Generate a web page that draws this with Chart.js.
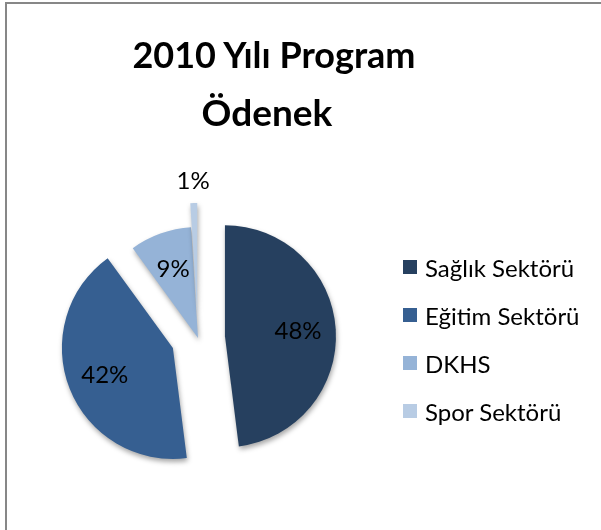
<!DOCTYPE html>
<html>
<head>
<meta charset="utf-8">
<script src="https://cdn.jsdelivr.net/npm/chart.js@4.4.1/dist/chart.umd.min.js"></script>
<style>
  html, body { margin: 0; padding: 0; background: #fff; }
  #wrap { position: relative; width: 601px; height: 530px; overflow: hidden; background: #fff; }
  #frame { position: absolute; left: 5px; top: 2px; width: 700px; height: 700px; border: 2px solid #878787; box-sizing: border-box; }
  #title { position: absolute; left: 74px; top: 26px; width: 400px; text-align: center;
           font-family: Lato, "Open Sans", sans-serif; font-weight: 700; font-size: 36px; line-height: 57px; color: #000; }
  #title div:nth-child(2) { position: relative; left: -7px; font-size: 37px; }
  #legend { position: absolute; left: 403px; top: 243px; font-family: Lato, "Open Sans", sans-serif; font-size: 24px; color: #000; }
  .item { display: flex; align-items: center; height: 48px; white-space: nowrap; }
  .box { width: 14px; height: 14px; margin-right: 8px; flex: none; }
  canvas { position: absolute; left: 0; top: 0; }
</style>
</head>
<body>
<div id="wrap">
  <div id="frame"></div>
  <canvas id="c" width="601" height="530"></canvas>
  <div id="title"></div>
  <div id="legend"></div>
</div>
<script>
// ---- data ----
const titleLines = ["2010 Yılı Program", "Ödenek"];
const categories = ["Sağlık Sektörü", "Eğitim Sektörü", "DKHS", "Spor Sektörü"];
const values = [48, 42, 9, 1];
const colors = ["#26405F", "#365F91", "#95B3D7", "#B8CCE4"];
const explode = [27, 27, 0, 24]; // explosion distance of each slice, px

const total = values.reduce((a, b) => a + b, 0);

document.getElementById('title').innerHTML = titleLines.map(t => '<div>' + t + '</div>').join('');
document.getElementById('legend').innerHTML = categories.map((c, i) =>
  '<div class="item"><span class="box" style="background:' + colors[i] + '"></span><span>' + c + '</span></div>').join('');

// draws each library-computed arc, moved outward along its bisector (exploded pie)
const explodePlugin = {
  id: 'explode',
  beforeDatasetDraw(chart, args) {
    const ctx = chart.ctx;
    const meta = args.meta;
    ctx.save();
    ctx.shadowColor = 'rgba(0,0,0,0.35)';
    ctx.shadowBlur = 5;
    ctx.shadowOffsetX = 1;
    ctx.shadowOffsetY = 3;
    meta.data.forEach((arc, i) => {
      const mid = (arc.startAngle + arc.endAngle) / 2;
      ctx.save();
      ctx.translate(Math.cos(mid) * explode[i], Math.sin(mid) * explode[i]);
      arc.draw(ctx);
      ctx.restore();
    });
    ctx.restore();
    return false;
  }
};

const labelPlugin = {
  id: 'pctLabels',
  afterDatasetsDraw(chart) {
    const ctx = chart.ctx;
    const meta = chart.getDatasetMeta(0);
    ctx.save();
    ctx.font = '24px Lato, "Open Sans", sans-serif';
    ctx.fillStyle = '#000';
    ctx.textAlign = 'center';
    ctx.textBaseline = 'middle';
    meta.data.forEach((arc, i) => {
      const mid = (arc.startAngle + arc.endAngle) / 2;
      const pct = values[i] / total * 100;
      const cx = arc.x + Math.cos(mid) * explode[i];
      const cy = arc.y + Math.sin(mid) * explode[i];
      const d = pct < 5 ? arc.outerRadius + 22 : arc.outerRadius * 0.66;
      ctx.fillText(Math.round(pct) + '%', cx + Math.cos(mid) * d, cy + Math.sin(mid) * d);
    });
    ctx.restore();
  }
};

new Chart(document.getElementById('c'), {
  type: 'pie',
  data: {
    labels: categories,
    datasets: [{
      data: values,
      backgroundColor: colors,
      borderWidth: 0,
      offset: 0,
      hoverOffset: 0,
      radius: 111
    }]
  },
  options: {
    responsive: false,
    animation: false,
    layout: { padding: { left: 0, right: 205, top: 146, bottom: 0 } },
    plugins: { legend: { display: false }, title: { display: false }, tooltip: { enabled: false } }
  },
  plugins: [explodePlugin, labelPlugin]
});
</script>
</body>
</html>
